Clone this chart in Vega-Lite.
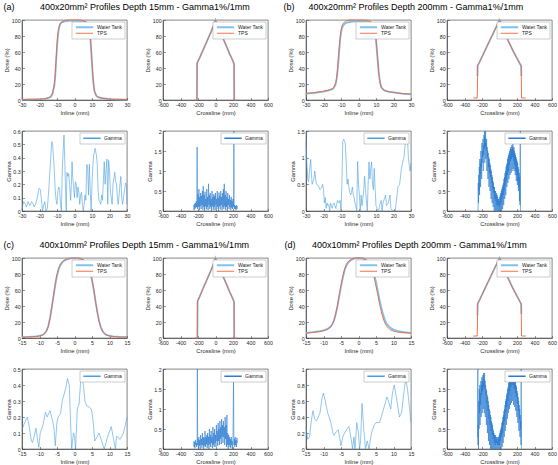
{
"$schema": "https://vega.github.io/schema/vega-lite/v6.json",
"background": "white",
"padding": {"left": 3, "top": 3, "right": 2, "bottom": 2},
"columns": 2,
"spacing": {"row": 14, "column": 10},
"resolve": {"scale": {"color": "independent", "strokeWidth": "independent"}, "legend": {"color": "independent", "strokeWidth": "independent"}},
"datasets": {
"aI": [{"x":-30,"M":0.5,"T":0.6},{"x":-25,"M":0.7,"T":0.7},{"x":-20,"M":1,"T":1.1},{"x":-17,"M":1.5,"T":1.6},{"x":-15,"M":2.5,"T":2.5},{"x":-13.5,"M":4,"T":4.5},{"x":-12.5,"M":8,"T":9},{"x":-11.5,"M":18,"T":20},{"x":-11,"M":30,"T":33},{"x":-10.5,"M":48,"T":52},{"x":-10,"M":66,"T":70},{"x":-9.5,"M":80,"T":83},{"x":-9,"M":88,"T":90},{"x":-8.5,"M":93,"T":94},{"x":-8,"M":95.5,"T":96},{"x":-7,"M":97.5,"T":98},{"x":-5,"M":98.5,"T":99.5},{"x":-3,"M":99,"T":100},{"x":0,"M":99,"T":100},{"x":3,"M":99,"T":100},{"x":5,"M":98.5,"T":99.3},{"x":6.5,"M":97.5,"T":98},{"x":7.5,"M":95,"T":95.5},{"x":8,"M":92,"T":93},{"x":8.5,"M":87,"T":88},{"x":9,"M":78,"T":80},{"x":9.5,"M":63,"T":65},{"x":10,"M":45,"T":47},{"x":10.5,"M":28,"T":30},{"x":11,"M":17,"T":18},{"x":11.5,"M":10,"T":11},{"x":12.5,"M":5,"T":5.5},{"x":13.5,"M":3.5,"T":3.5},{"x":16,"M":2.2,"T":2.2},{"x":20,"M":1,"T":1.1},{"x":25,"M":0.7,"T":0.7},{"x":30,"M":0.5,"T":0.6}],
"aC": [{"x":-240,"T":0},{"x":-215,"M":0,"T":0},{"x":-212,"M":0.5,"T":0.5},{"x":-211,"M":25,"T":25},{"x":-210,"M":46,"T":46},{"x":-200,"M":48.5,"T":48.5},{"x":-180,"M":53,"T":53},{"x":-150,"M":60.5,"T":60.5},{"x":-120,"M":68,"T":68},{"x":-100,"M":73,"T":73},{"x":-80,"M":78,"T":78},{"x":-50,"M":85.5,"T":85.5},{"x":-30,"M":91,"T":91},{"x":-15,"M":95,"T":95},{"x":-5,"M":98.5,"T":98.5},{"x":0,"M":100,"T":100},{"x":5,"M":98.5,"T":98.5},{"x":15,"M":95.5,"T":95.5},{"x":30,"M":91.5,"T":91.5},{"x":50,"M":86,"T":86},{"x":80,"M":78.5,"T":78.5},{"x":100,"M":73.5,"T":73.5},{"x":130,"M":66,"T":66},{"x":160,"M":58,"T":58},{"x":190,"M":51,"T":51},{"x":205,"M":47,"T":47},{"x":212,"M":45,"T":45},{"x":213,"M":25,"T":25},{"x":214,"M":0.5,"T":0.5},{"x":217,"M":0,"T":0},{"x":240,"T":0}],
"bI": [{"x":-30,"M":8,"T":8},{"x":-25,"M":9,"T":9.3},{"x":-20,"M":10.5,"T":11},{"x":-17,"M":12,"T":12.5},{"x":-15,"M":13.5,"T":14},{"x":-14,"M":15.5,"T":16},{"x":-13,"M":20,"T":21.5},{"x":-12.5,"M":26,"T":28},{"x":-12,"M":35,"T":38},{"x":-11.5,"M":48,"T":52},{"x":-11,"M":62,"T":66},{"x":-10.5,"M":75,"T":78},{"x":-10,"M":84,"T":87},{"x":-9.5,"M":89,"T":92},{"x":-9,"M":92,"T":95},{"x":-8,"M":95,"T":97.5},{"x":-7,"M":96.5,"T":99},{"x":-5,"M":97.5,"T":100},{"x":-3,"M":98,"T":100},{"x":0,"M":98.5,"T":100},{"x":3,"M":98.5,"T":100},{"x":5,"M":98,"T":99.5},{"x":7,"M":96.5,"T":98},{"x":8,"M":94,"T":96},{"x":9,"M":88,"T":91},{"x":9.5,"M":83,"T":86},{"x":10,"M":74,"T":77},{"x":10.5,"M":62,"T":64},{"x":11,"M":48,"T":50},{"x":11.5,"M":35,"T":36},{"x":12,"M":26,"T":27},{"x":12.5,"M":20,"T":20},{"x":13,"M":16,"T":16},{"x":14,"M":13.5,"T":13},{"x":15,"M":12,"T":11.5},{"x":17,"M":10.5,"T":10.3},{"x":20,"M":9.5,"T":9.5},{"x":25,"M":8,"T":8},{"x":30,"M":7,"T":7.5}],
"bC": [{"x":-300,"T":2.5},{"x":-255,"T":2.5},{"x":-252,"M":30,"T":15},{"x":-250,"M":43,"T":43},{"x":-230,"M":47,"T":47},{"x":-200,"M":54,"T":54},{"x":-150,"M":65.5,"T":65.5},{"x":-100,"M":77,"T":77},{"x":-60,"M":86,"T":86},{"x":-30,"M":93,"T":93},{"x":-15,"M":96.5,"T":97},{"x":-5,"M":99,"T":99.5},{"x":0,"M":100,"T":100},{"x":5,"M":99,"T":99.5},{"x":10,"M":98,"T":97.5},{"x":20,"M":95,"T":95},{"x":50,"M":86.5,"T":86.5},{"x":100,"M":74,"T":74},{"x":150,"M":62.5,"T":62.5},{"x":200,"M":52,"T":52},{"x":230,"M":46,"T":46},{"x":248,"M":42.5,"T":42.5},{"x":250,"M":30,"T":20},{"x":252,"T":2.5},{"x":300,"T":2.5}],
"cI": [{"x":-15,"M":1.2,"T":1},{"x":-13,"M":1.5,"T":1.3},{"x":-11,"M":2,"T":1.8},{"x":-10,"M":2.7,"T":2.5},{"x":-9,"M":4,"T":4},{"x":-8.5,"M":6,"T":5.5},{"x":-8,"M":9,"T":8.5},{"x":-7.5,"M":15,"T":14},{"x":-7,"M":25,"T":24},{"x":-6.5,"M":38,"T":38},{"x":-6,"M":52,"T":53},{"x":-5.5,"M":66,"T":68},{"x":-5,"M":78,"T":80},{"x":-4.5,"M":86,"T":88},{"x":-4,"M":91,"T":92.5},{"x":-3.5,"M":94.5,"T":95},{"x":-3,"M":96.5,"T":97},{"x":-2,"M":98.5,"T":99},{"x":-1,"M":99.5,"T":100},{"x":0,"M":100,"T":100},{"x":1,"M":99.5,"T":100},{"x":2,"M":98.5,"T":99},{"x":3,"M":96,"T":96.5},{"x":3.5,"M":93.5,"T":94},{"x":4,"M":89,"T":90},{"x":4.5,"M":82,"T":84},{"x":5,"M":72,"T":74},{"x":5.5,"M":60,"T":61},{"x":6,"M":46,"T":46},{"x":6.5,"M":33,"T":32},{"x":7,"M":22,"T":21},{"x":7.5,"M":14,"T":13},{"x":8,"M":9,"T":8},{"x":8.5,"M":6,"T":5.5},{"x":9,"M":4.2,"T":4},{"x":10,"M":2.8,"T":2.5},{"x":11,"M":2,"T":1.8},{"x":13,"M":1.5,"T":1.3},{"x":15,"M":1.2,"T":1}],
"cC": [{"x":-235,"T":0},{"x":-210,"M":0,"T":0},{"x":-207,"M":0.5,"T":0.5},{"x":-206,"M":25,"T":25},{"x":-205,"M":46,"T":46},{"x":-195,"M":48.5,"T":48.5},{"x":-180,"M":52,"T":52},{"x":-150,"M":60,"T":60},{"x":-120,"M":67.5,"T":67.5},{"x":-100,"M":72.5,"T":72.5},{"x":-80,"M":77.5,"T":77.5},{"x":-50,"M":85,"T":85},{"x":-30,"M":90.5,"T":90.5},{"x":-15,"M":95,"T":95},{"x":-5,"M":98.5,"T":98.5},{"x":0,"M":100,"T":100},{"x":5,"M":98.5,"T":98.5},{"x":15,"M":95.5,"T":95.5},{"x":30,"M":91.5,"T":91.5},{"x":50,"M":86,"T":86},{"x":80,"M":78.5,"T":78.5},{"x":100,"M":73.5,"T":73.5},{"x":130,"M":66,"T":66},{"x":160,"M":58,"T":58},{"x":190,"M":51,"T":51},{"x":205,"M":47,"T":47},{"x":212,"M":45,"T":45},{"x":213,"M":25,"T":25},{"x":214,"M":0.5,"T":0.5},{"x":217,"M":0,"T":0},{"x":240,"T":0}],
"dI": [{"x":-15,"M":6.5,"T":6},{"x":-13,"M":7.3,"T":7},{"x":-11,"M":8.5,"T":8},{"x":-10,"M":9.5,"T":9},{"x":-9,"M":11,"T":10.5},{"x":-8,"M":14,"T":13.5},{"x":-7.5,"M":17,"T":17},{"x":-7,"M":22,"T":22},{"x":-6.5,"M":30,"T":30},{"x":-6,"M":40,"T":41},{"x":-5.5,"M":52,"T":54},{"x":-5,"M":64,"T":66},{"x":-4.5,"M":75,"T":77},{"x":-4,"M":84,"T":86},{"x":-3.5,"M":90,"T":92},{"x":-3,"M":94,"T":95.5},{"x":-2,"M":98,"T":98.5},{"x":-1,"M":99.5,"T":100},{"x":0,"M":100,"T":100},{"x":1,"M":99.5,"T":100},{"x":2,"M":98,"T":98.5},{"x":3,"M":94.5,"T":94},{"x":3.5,"M":91,"T":90},{"x":4,"M":86,"T":84},{"x":4.5,"M":79,"T":75},{"x":5,"M":70,"T":65},{"x":5.5,"M":59,"T":54},{"x":6,"M":48,"T":43},{"x":6.5,"M":38,"T":33},{"x":7,"M":30,"T":25},{"x":7.5,"M":23,"T":19},{"x":8,"M":18,"T":15},{"x":9,"M":13,"T":10.5},{"x":10,"M":10.5,"T":8.5},{"x":11,"M":9,"T":7.5},{"x":13,"M":7.3,"T":6.5},{"x":15,"M":6.5,"T":6}],
"dC": [{"x":-300,"T":2.5},{"x":-255,"T":2.5},{"x":-252,"M":28,"T":15},{"x":-250,"M":43,"T":43},{"x":-230,"M":47,"T":47},{"x":-200,"M":54,"T":54},{"x":-150,"M":65.5,"T":66},{"x":-100,"M":77,"T":77.5},{"x":-60,"M":86,"T":86.5},{"x":-30,"M":93,"T":93},{"x":-15,"M":96.5,"T":97},{"x":-5,"M":99,"T":99.5},{"x":0,"M":100,"T":100},{"x":5,"M":99,"T":99.5},{"x":10,"M":98,"T":97.5},{"x":20,"M":95,"T":95},{"x":50,"M":87,"T":86.5},{"x":100,"M":74.5,"T":74},{"x":150,"M":63,"T":62.5},{"x":200,"M":52.5,"T":52},{"x":230,"M":46,"T":46},{"x":248,"M":42.5,"T":42.5},{"x":250,"M":30,"T":20},{"x":252,"T":2.5},{"x":300,"T":2.5}],
"gaI": [{"x":-30,"y":0},{"x":-29.5,"y":0.05},{"x":-29,"y":0.07},{"x":-28,"y":0.05},{"x":-27.5,"y":0.03},{"x":-26.5,"y":0.07},{"x":-25.5,"y":0.04},{"x":-24.5,"y":0.07},{"x":-23.5,"y":0.05},{"x":-23,"y":0.03},{"x":-22,"y":0.06},{"x":-21,"y":0.12},{"x":-20.3,"y":0.17},{"x":-19.5,"y":0.16},{"x":-19,"y":0.1},{"x":-18.3,"y":0},{"x":-17.5,"y":0.05},{"x":-17,"y":0.07},{"x":-16.3,"y":0},{"x":-15.5,"y":0.02},{"x":-14.5,"y":0.2},{"x":-13.5,"y":0.42},{"x":-13,"y":0.52},{"x":-12.5,"y":0.5},{"x":-12,"y":0.4},{"x":-11.5,"y":0.3},{"x":-11,"y":0.15},{"x":-10.5,"y":0.08},{"x":-10,"y":0.05},{"x":-9.5,"y":0.15},{"x":-9,"y":0.18},{"x":-8.5,"y":0.16},{"x":-8,"y":0.05},{"x":-7.5,"y":0},{"x":-7,"y":0.3},{"x":-6.5,"y":0.45},{"x":-6,"y":0.57},{"x":-5.5,"y":0.35},{"x":-5,"y":0.1},{"x":-4.7,"y":0},{"x":-4.3,"y":0.29},{"x":-3.8,"y":0.26},{"x":-3.3,"y":0.28},{"x":-2.8,"y":0.2},{"x":-2.2,"y":0.08},{"x":-1.8,"y":0.2},{"x":-1.4,"y":0.37},{"x":-1,"y":0.25},{"x":-0.5,"y":0.18},{"x":0,"y":0.1},{"x":0.5,"y":0.22},{"x":1,"y":0.2},{"x":1.5,"y":0.1},{"x":2,"y":0.18},{"x":2.5,"y":0.14},{"x":3,"y":0.05},{"x":3.5,"y":0.12},{"x":4,"y":0.14},{"x":4.5,"y":0.05},{"x":5,"y":0},{"x":5.5,"y":0.05},{"x":6,"y":0.12},{"x":6.5,"y":0.08},{"x":7,"y":0.35},{"x":7.5,"y":0.33},{"x":8,"y":0.12},{"x":8.5,"y":0.35},{"x":9,"y":0.15},{"x":9.5,"y":0},{"x":10,"y":0.2},{"x":10.5,"y":0.35},{"x":11,"y":0.42},{"x":11.8,"y":0.47},{"x":12.5,"y":0.42},{"x":13,"y":0.35},{"x":13.5,"y":0.15},{"x":14,"y":0.08},{"x":15,"y":0.05},{"x":15.5,"y":0.12},{"x":16,"y":0.08},{"x":17,"y":0.37},{"x":17.5,"y":0.2},{"x":18,"y":0.3},{"x":18.5,"y":0.39},{"x":19,"y":0.05},{"x":19.5,"y":0.38},{"x":20,"y":0.3},{"x":20.5,"y":0.15},{"x":21,"y":0.1},{"x":21.5,"y":0.05},{"x":22,"y":0.2},{"x":23,"y":0.29},{"x":23.5,"y":0.22},{"x":24,"y":0.2},{"x":24.5,"y":0.1},{"x":25,"y":0.05},{"x":26,"y":0.2},{"x":26.5,"y":0.26},{"x":27,"y":0.1},{"x":27.5,"y":0.05},{"x":28.5,"y":0.15},{"x":29.2,"y":0.21},{"x":29.6,"y":0.2},{"x":30,"y":0.05}],
"gaC": [{"x":-250,"y":0.15},{"x":-245,"y":0.02},{"x":-240,"y":0.18},{"x":-235,"y":0.05},{"x":-230,"y":0.2},{"x":-225,"y":0.08},{"x":-220,"y":0.25},{"x":-215,"y":0.1},{"x":-212,"y":0.4},{"x":-210,"y":1.6},{"x":-207,"y":0.3},{"x":-205,"y":0.05},{"x":-200,"y":0.42},{"x":-195,"y":0.1},{"x":-190,"y":0.55},{"x":-185,"y":0.02},{"x":-180,"y":0.35},{"x":-175,"y":0.12},{"x":-170,"y":0.45},{"x":-165,"y":0.05},{"x":-160,"y":0.38},{"x":-155,"y":0.15},{"x":-150,"y":0.5},{"x":-145,"y":0.03},{"x":-140,"y":0.62},{"x":-135,"y":0.1},{"x":-130,"y":0.4},{"x":-125,"y":0},{"x":-120,"y":0.48},{"x":-115,"y":0.12},{"x":-110,"y":0.3},{"x":-105,"y":0.04},{"x":-100,"y":0.55},{"x":-95,"y":0.1},{"x":-90,"y":0.35},{"x":-85,"y":0.02},{"x":-80,"y":0.68},{"x":-75,"y":0.15},{"x":-70,"y":0.4},{"x":-65,"y":0.05},{"x":-60,"y":0.45},{"x":-55,"y":0.1},{"x":-50,"y":0.3},{"x":-45,"y":0},{"x":-40,"y":0.5},{"x":-35,"y":0.12},{"x":-30,"y":0.35},{"x":-25,"y":0.03},{"x":-20,"y":0.42},{"x":-15,"y":0.1},{"x":-10,"y":0.38},{"x":-5,"y":0.02},{"x":0,"y":0.45},{"x":5,"y":0.15},{"x":10,"y":0.3},{"x":15,"y":0.05},{"x":20,"y":0.5},{"x":25,"y":0.1},{"x":30,"y":0.33},{"x":35,"y":0},{"x":40,"y":0.46},{"x":45,"y":0.12},{"x":50,"y":0.38},{"x":55,"y":0.04},{"x":60,"y":0.5},{"x":65,"y":0.15},{"x":70,"y":0.35},{"x":75,"y":0.02},{"x":80,"y":0.45},{"x":85,"y":0.1},{"x":90,"y":0.55},{"x":95,"y":0.05},{"x":100,"y":0.68},{"x":105,"y":0.12},{"x":110,"y":0.4},{"x":115,"y":0.03},{"x":120,"y":0.5},{"x":125,"y":0.1},{"x":130,"y":0.35},{"x":135,"y":0},{"x":140,"y":0.45},{"x":145,"y":0.15},{"x":150,"y":0.3},{"x":155,"y":0.05},{"x":160,"y":0.4},{"x":165,"y":0.1},{"x":170,"y":0.28},{"x":175,"y":0.02},{"x":180,"y":0.35},{"x":185,"y":0.08},{"x":190,"y":0.25},{"x":195,"y":0.05},{"x":200,"y":0.3},{"x":205,"y":0.1},{"x":208,"y":0.5},{"x":210,"y":2},{"x":212,"y":0.3},{"x":215,"y":0.05},{"x":220,"y":0.15},{"x":225,"y":0.05},{"x":230,"y":0.12},{"x":235,"y":0.02},{"x":240,"y":0.15},{"x":245,"y":0.05},{"x":250,"y":0.12}],
"gbI": [{"x":-30,"y":1.3},{"x":-29.5,"y":0.9},{"x":-29,"y":0.6},{"x":-28.5,"y":0.55},{"x":-28,"y":0.75},{"x":-27.3,"y":0.97},{"x":-27,"y":0.75},{"x":-26.5,"y":0.5},{"x":-26,"y":0.55},{"x":-25.5,"y":0.6},{"x":-25,"y":0.75},{"x":-24.5,"y":0.6},{"x":-24,"y":0.5},{"x":-23,"y":0.48},{"x":-22,"y":0.4},{"x":-21.5,"y":0.42},{"x":-21,"y":0.45},{"x":-20.5,"y":0.5},{"x":-20,"y":0.4},{"x":-19.5,"y":0.15},{"x":-19,"y":0.25},{"x":-18.5,"y":0.05},{"x":-18,"y":0.15},{"x":-17.5,"y":0.1},{"x":-17,"y":0.12},{"x":-16.5,"y":0},{"x":-16,"y":0.15},{"x":-15.5,"y":0.1},{"x":-15,"y":0.05},{"x":-14.5,"y":0.12},{"x":-14,"y":0.15},{"x":-13,"y":0.05},{"x":-12.5,"y":0.12},{"x":-12,"y":0.2},{"x":-11,"y":0.15},{"x":-10.5,"y":0.2},{"x":-10,"y":0},{"x":-9.5,"y":0.5},{"x":-9,"y":1.3},{"x":-8.5,"y":1.35},{"x":-8,"y":1.32},{"x":-7.5,"y":1.25},{"x":-7,"y":0.9},{"x":-6.5,"y":0.5},{"x":-6,"y":0.6},{"x":-5.5,"y":0.45},{"x":-5,"y":0.35},{"x":-4.5,"y":0.3},{"x":-4,"y":0.35},{"x":-3.5,"y":0.45},{"x":-3,"y":0.3},{"x":-2.5,"y":0.25},{"x":-2,"y":0.15},{"x":-1,"y":0},{"x":-0.5,"y":0.93},{"x":0,"y":0.5},{"x":0.5,"y":0.3},{"x":1,"y":0},{"x":1.5,"y":0.3},{"x":2,"y":0.1},{"x":3,"y":0.4},{"x":3.5,"y":0.65},{"x":4,"y":0.4},{"x":4.5,"y":0.2},{"x":5,"y":0},{"x":5.5,"y":0.5},{"x":6,"y":0.92},{"x":6.5,"y":0.6},{"x":7,"y":0.8},{"x":7.5,"y":0.92},{"x":8,"y":0.5},{"x":8.5,"y":0.4},{"x":9,"y":0.8},{"x":9.5,"y":0.4},{"x":10,"y":0.1},{"x":10.5,"y":0.05},{"x":11.5,"y":0},{"x":12,"y":0.1},{"x":13,"y":0.2},{"x":13.5,"y":0},{"x":14,"y":0.15},{"x":15.5,"y":0.3},{"x":16,"y":0.1},{"x":17,"y":0.15},{"x":18,"y":0.3},{"x":18.5,"y":0.05},{"x":19.5,"y":0},{"x":21,"y":0},{"x":22,"y":0.3},{"x":22.5,"y":0.45},{"x":23.5,"y":0.5},{"x":24.5,"y":0.8},{"x":25.5,"y":0.95},{"x":26,"y":1},{"x":26.5,"y":1.2},{"x":27,"y":1.3},{"x":27.5,"y":1.33},{"x":28,"y":1.35},{"x":28.5,"y":1},{"x":29,"y":0.85},{"x":29.5,"y":0.75},{"x":30,"y":0.9}],
"gbC": [{"x":-245,"y":0},{"x":-243,"y":0.7},{"x":-240,"y":0.2},{"x":-237,"y":0.9},{"x":-234,"y":0.5},{"x":-231,"y":1.1},{"x":-228,"y":0.4},{"x":-225,"y":1.3},{"x":-222,"y":0.9},{"x":-219,"y":1.2},{"x":-216,"y":0.6},{"x":-213,"y":1.5},{"x":-210,"y":1.1},{"x":-207,"y":1.3},{"x":-204,"y":0.8},{"x":-201,"y":1.7},{"x":-198,"y":1.2},{"x":-195,"y":1.5},{"x":-192,"y":1.35},{"x":-189,"y":1.8},{"x":-186,"y":1},{"x":-183,"y":1.65},{"x":-180,"y":1.4},{"x":-177,"y":1.9},{"x":-174,"y":1.55},{"x":-171,"y":2},{"x":-168,"y":1.2},{"x":-165,"y":1.85},{"x":-162,"y":1.6},{"x":-159,"y":2},{"x":-156,"y":1.3},{"x":-153,"y":1.7},{"x":-150,"y":1.5},{"x":-147,"y":1.8},{"x":-144,"y":1},{"x":-141,"y":1.6},{"x":-138,"y":1.35},{"x":-135,"y":1.5},{"x":-132,"y":0.8},{"x":-129,"y":1.45},{"x":-126,"y":1.1},{"x":-123,"y":1.35},{"x":-120,"y":0.6},{"x":-117,"y":1.3},{"x":-114,"y":0.95},{"x":-111,"y":1.2},{"x":-108,"y":0.5},{"x":-105,"y":1.15},{"x":-102,"y":0.85},{"x":-99,"y":1.05},{"x":-96,"y":0.3},{"x":-93,"y":1},{"x":-90,"y":0.7},{"x":-87,"y":0.9},{"x":-84,"y":0.2},{"x":-81,"y":0.85},{"x":-78,"y":0.55},{"x":-75,"y":0.75},{"x":-72,"y":0.1},{"x":-69,"y":0.7},{"x":-66,"y":0.45},{"x":-63,"y":0.6},{"x":-60,"y":0},{"x":-57,"y":0.6},{"x":-54,"y":0.3},{"x":-51,"y":0.5},{"x":-48,"y":0},{"x":-45,"y":0.5},{"x":-42,"y":0.25},{"x":-39,"y":0.4},{"x":-36,"y":0},{"x":-33,"y":0.45},{"x":-30,"y":0.15},{"x":-27,"y":0.4},{"x":-24,"y":0},{"x":-21,"y":0.35},{"x":-18,"y":0.15},{"x":-15,"y":0.3},{"x":-12,"y":0},{"x":-9,"y":0.3},{"x":-6,"y":0.1},{"x":-3,"y":0.25},{"x":0,"y":0},{"x":3,"y":0.35},{"x":6,"y":0.15},{"x":9,"y":0.4},{"x":12,"y":0},{"x":15,"y":0.45},{"x":18,"y":0.2},{"x":21,"y":0.5},{"x":24,"y":0},{"x":27,"y":0.55},{"x":30,"y":0.3},{"x":33,"y":0.6},{"x":36,"y":0.05},{"x":39,"y":0.65},{"x":42,"y":0.4},{"x":45,"y":0.7},{"x":48,"y":0.15},{"x":51,"y":0.8},{"x":54,"y":0.5},{"x":57,"y":0.85},{"x":60,"y":0.3},{"x":63,"y":0.95},{"x":66,"y":0.65},{"x":69,"y":1},{"x":72,"y":0.4},{"x":75,"y":1.1},{"x":78,"y":0.75},{"x":81,"y":1.15},{"x":84,"y":0.6},{"x":87,"y":1.2},{"x":90,"y":0.9},{"x":93,"y":1.3},{"x":96,"y":0.7},{"x":99,"y":1.35},{"x":102,"y":1},{"x":105,"y":1.4},{"x":108,"y":0.8},{"x":111,"y":1.45},{"x":114,"y":1.15},{"x":117,"y":1.5},{"x":120,"y":0.9},{"x":123,"y":1.55},{"x":126,"y":1.25},{"x":129,"y":1.6},{"x":132,"y":0.95},{"x":135,"y":1.55},{"x":138,"y":1.3},{"x":141,"y":1.65},{"x":144,"y":1},{"x":147,"y":1.6},{"x":150,"y":1.35},{"x":153,"y":1.7},{"x":156,"y":1.05},{"x":159,"y":1.55},{"x":162,"y":1.25},{"x":165,"y":1.6},{"x":168,"y":1},{"x":171,"y":1.5},{"x":174,"y":1.15},{"x":177,"y":1.45},{"x":180,"y":0.9},{"x":183,"y":1.4},{"x":186,"y":1},{"x":189,"y":1.35},{"x":192,"y":0.75},{"x":195,"y":1.3},{"x":198,"y":0.9},{"x":201,"y":1.25},{"x":204,"y":0.65},{"x":207,"y":1.2},{"x":210,"y":0.75},{"x":213,"y":1.1},{"x":216,"y":0.5},{"x":219,"y":1.05},{"x":222,"y":0.6},{"x":225,"y":0.95},{"x":228,"y":0.25},{"x":231,"y":0.85},{"x":234,"y":0.15},{"x":236,"y":1.5},{"x":238,"y":2},{"x":240,"y":0}],
"gcI": [{"x":-15,"y":0.12},{"x":-14.5,"y":0.15},{"x":-13.5,"y":0.2},{"x":-13,"y":0.15},{"x":-12.3,"y":0.05},{"x":-12,"y":0.04},{"x":-11.3,"y":0.1},{"x":-11,"y":0.13},{"x":-10.5,"y":0.05},{"x":-10.2,"y":0.01},{"x":-9.8,"y":0.1},{"x":-9,"y":0.15},{"x":-8.3,"y":0.23},{"x":-7.8,"y":0.2},{"x":-7,"y":0.24},{"x":-6.3,"y":0.18},{"x":-5.8,"y":0.12},{"x":-5.5,"y":0.02},{"x":-5,"y":0.17},{"x":-4.7,"y":0.2},{"x":-4,"y":0.22},{"x":-3.5,"y":0.3},{"x":-2.5,"y":0.38},{"x":-2,"y":0.44},{"x":-1.5,"y":0.4},{"x":-1.1,"y":0.15},{"x":-0.8,"y":0},{"x":-0.3,"y":0.1},{"x":0,"y":0.08},{"x":0.3,"y":0},{"x":0.8,"y":0.25},{"x":1.3,"y":0.28},{"x":1.9,"y":0.47},{"x":2.3,"y":0.45},{"x":3,"y":0.3},{"x":3.5,"y":0.27},{"x":4.3,"y":0.26},{"x":4.8,"y":0.25},{"x":5.2,"y":0.2},{"x":5.8,"y":0.05},{"x":6.3,"y":0.07},{"x":7,"y":0.1},{"x":8.5,"y":0},{"x":9.5,"y":0.08},{"x":10.5,"y":0.14},{"x":11,"y":0.08},{"x":11.7,"y":0},{"x":12,"y":0.08},{"x":13,"y":0.06},{"x":14,"y":0.1},{"x":15,"y":0.2}],
"gcC": [{"x":-250,"y":0.2},{"x":-245,"y":0.05},{"x":-240,"y":0.18},{"x":-235,"y":0.02},{"x":-230,"y":0.22},{"x":-225,"y":0.1},{"x":-220,"y":0.15},{"x":-215,"y":0.05},{"x":-210,"y":0.3},{"x":-207,"y":2},{"x":-204,"y":0.1},{"x":-200,"y":0.25},{"x":-195,"y":0.02},{"x":-190,"y":0.3},{"x":-185,"y":0.08},{"x":-180,"y":0.22},{"x":-175,"y":0},{"x":-170,"y":0.35},{"x":-165,"y":0.1},{"x":-160,"y":0.25},{"x":-155,"y":0.03},{"x":-150,"y":0.4},{"x":-145,"y":0.1},{"x":-140,"y":0.3},{"x":-135,"y":0},{"x":-130,"y":0.28},{"x":-125,"y":0.08},{"x":-120,"y":0.45},{"x":-115,"y":0.05},{"x":-110,"y":0.3},{"x":-105,"y":0.12},{"x":-100,"y":0.35},{"x":-95,"y":0.02},{"x":-90,"y":0.4},{"x":-85,"y":0.1},{"x":-80,"y":0.3},{"x":-75,"y":0},{"x":-70,"y":0.5},{"x":-65,"y":0.12},{"x":-60,"y":0.35},{"x":-55,"y":0.05},{"x":-50,"y":0.45},{"x":-45,"y":0.15},{"x":-40,"y":0.3},{"x":-35,"y":0.02},{"x":-30,"y":0.55},{"x":-25,"y":0.1},{"x":-20,"y":0.4},{"x":-15,"y":0.05},{"x":-10,"y":0.5},{"x":-5,"y":0.15},{"x":0,"y":0.35},{"x":5,"y":0.05},{"x":10,"y":0.6},{"x":15,"y":0.2},{"x":20,"y":0.45},{"x":25,"y":0.08},{"x":30,"y":0.65},{"x":35,"y":0.2},{"x":40,"y":0.5},{"x":45,"y":0.1},{"x":50,"y":0.7},{"x":55,"y":0.25},{"x":60,"y":0.55},{"x":65,"y":0.12},{"x":70,"y":0.75},{"x":75,"y":0.3},{"x":80,"y":0.6},{"x":85,"y":0.15},{"x":90,"y":0.7},{"x":95,"y":0.3},{"x":100,"y":0.55},{"x":105,"y":0.1},{"x":110,"y":0.8},{"x":115,"y":0.25},{"x":120,"y":0.6},{"x":125,"y":0.05},{"x":130,"y":0.85},{"x":135,"y":0.1},{"x":140,"y":0.4},{"x":145,"y":0},{"x":150,"y":0.35},{"x":155,"y":0.1},{"x":160,"y":0.3},{"x":165,"y":0.05},{"x":170,"y":0.25},{"x":175,"y":0.02},{"x":180,"y":0.3},{"x":185,"y":0.1},{"x":190,"y":0.2},{"x":195,"y":0},{"x":200,"y":0.3},{"x":203,"y":1},{"x":206,"y":1.7},{"x":209,"y":0.5},{"x":212,"y":0.1},{"x":215,"y":0.25},{"x":220,"y":0.05},{"x":225,"y":0.3},{"x":230,"y":0.1},{"x":235,"y":0.22},{"x":240,"y":0.05},{"x":245,"y":0.28},{"x":250,"y":0.15}],
"gdI": [{"x":-15,"y":0.27},{"x":-14.5,"y":0.12},{"x":-14,"y":0.15},{"x":-13.5,"y":0.35},{"x":-13,"y":0.48},{"x":-12.5,"y":0.37},{"x":-12,"y":0.35},{"x":-11,"y":0.45},{"x":-10.5,"y":0.62},{"x":-10,"y":0.7},{"x":-9.5,"y":0.6},{"x":-8.8,"y":0.45},{"x":-8,"y":0.35},{"x":-7.3,"y":0.2},{"x":-7,"y":0.17},{"x":-6.3,"y":0.22},{"x":-5.8,"y":0.24},{"x":-5.3,"y":0.12},{"x":-5,"y":0.04},{"x":-4.5,"y":0.15},{"x":-4,"y":0.2},{"x":-3,"y":0.27},{"x":-2.7,"y":0.28},{"x":-2,"y":0.1},{"x":-1.7,"y":0},{"x":-1.3,"y":0.15},{"x":-1,"y":0},{"x":-0.5,"y":0.33},{"x":0,"y":0.2},{"x":0.3,"y":0},{"x":0.6,"y":0.1},{"x":1,"y":0.57},{"x":1.5,"y":0.25},{"x":2,"y":0},{"x":2.5,"y":0.1},{"x":3,"y":0},{"x":3.7,"y":0.2},{"x":4.5,"y":0.3},{"x":5,"y":0.33},{"x":6,"y":0.33},{"x":6.5,"y":0.4},{"x":7.5,"y":0.55},{"x":8.1,"y":0.65},{"x":8.7,"y":0.58},{"x":9.2,"y":0.5},{"x":9.7,"y":0.7},{"x":10.2,"y":0.8},{"x":11,"y":0.6},{"x":11.7,"y":0.4},{"x":12.3,"y":0.45},{"x":13,"y":0.72},{"x":13.5,"y":0.88},{"x":14,"y":0.75},{"x":14.6,"y":0.5},{"x":15,"y":0.33}],
"gdC": [{"x":-250,"y":0.3},{"x":-248,"y":2},{"x":-246,"y":0.1},{"x":-243,"y":0.6},{"x":-240,"y":0},{"x":-237,"y":1.2},{"x":-234,"y":0.5},{"x":-231,"y":1.5},{"x":-228,"y":0.9},{"x":-225,"y":1.6},{"x":-222,"y":0.6},{"x":-219,"y":1.4},{"x":-216,"y":1.1},{"x":-213,"y":1.7},{"x":-210,"y":0.8},{"x":-207,"y":1.6},{"x":-204,"y":1.35},{"x":-201,"y":1.8},{"x":-198,"y":0.9},{"x":-195,"y":1.7},{"x":-192,"y":1.45},{"x":-189,"y":1.85},{"x":-186,"y":1},{"x":-183,"y":1.9},{"x":-180,"y":1.55},{"x":-177,"y":1.75},{"x":-174,"y":0.9},{"x":-171,"y":1.9},{"x":-168,"y":1.5},{"x":-165,"y":1.7},{"x":-162,"y":0.8},{"x":-159,"y":1.6},{"x":-156,"y":1.35},{"x":-153,"y":1.5},{"x":-150,"y":0.6},{"x":-147,"y":1.45},{"x":-144,"y":1.15},{"x":-141,"y":1.35},{"x":-138,"y":0.4},{"x":-135,"y":1.3},{"x":-132,"y":0.95},{"x":-129,"y":1.2},{"x":-126,"y":0.2},{"x":-123,"y":1.1},{"x":-120,"y":0.75},{"x":-117,"y":1},{"x":-114,"y":0.1},{"x":-111,"y":0.95},{"x":-108,"y":0.6},{"x":-105,"y":0.85},{"x":-102,"y":0},{"x":-99,"y":0.8},{"x":-96,"y":0.45},{"x":-93,"y":0.7},{"x":-90,"y":0},{"x":-87,"y":0.65},{"x":-84,"y":0.35},{"x":-81,"y":0.6},{"x":-78,"y":0},{"x":-75,"y":0.5},{"x":-72,"y":0.25},{"x":-69,"y":0.45},{"x":-66,"y":0},{"x":-63,"y":0.4},{"x":-60,"y":0.15},{"x":-57,"y":0.35},{"x":-54,"y":0},{"x":-51,"y":0.3},{"x":-48,"y":0.1},{"x":-45,"y":0.35},{"x":-42,"y":0},{"x":-39,"y":0.25},{"x":-36,"y":0.15},{"x":-33,"y":0.3},{"x":-30,"y":0},{"x":-27,"y":0.2},{"x":-24,"y":0.1},{"x":-21,"y":0.3},{"x":-18,"y":0},{"x":-15,"y":0.25},{"x":-12,"y":0.1},{"x":-9,"y":0.3},{"x":-6,"y":0},{"x":-3,"y":0.35},{"x":0,"y":0.1},{"x":3,"y":0.4},{"x":6,"y":0},{"x":9,"y":0.45},{"x":12,"y":0.2},{"x":15,"y":0.5},{"x":18,"y":0},{"x":21,"y":0.55},{"x":24,"y":0.3},{"x":27,"y":0.65},{"x":30,"y":0.05},{"x":33,"y":0.7},{"x":36,"y":0.4},{"x":39,"y":0.8},{"x":42,"y":0.15},{"x":45,"y":0.85},{"x":48,"y":0.6},{"x":51,"y":0.95},{"x":54,"y":0.3},{"x":57,"y":1},{"x":60,"y":0.7},{"x":63,"y":1.1},{"x":66,"y":0.45},{"x":69,"y":1.2},{"x":72,"y":0.9},{"x":75,"y":1.25},{"x":78,"y":0.6},{"x":81,"y":1.35},{"x":84,"y":1.05},{"x":87,"y":1.4},{"x":90,"y":0.75},{"x":93,"y":1.5},{"x":96,"y":1.2},{"x":99,"y":1.55},{"x":102,"y":0.9},{"x":105,"y":1.65},{"x":108,"y":1.35},{"x":111,"y":1.7},{"x":114,"y":1},{"x":117,"y":1.8},{"x":120,"y":1.45},{"x":123,"y":1.75},{"x":126,"y":1.1},{"x":129,"y":1.85},{"x":132,"y":1.55},{"x":135,"y":1.8},{"x":138,"y":1.15},{"x":141,"y":1.9},{"x":144,"y":1.6},{"x":147,"y":1.85},{"x":150,"y":1.2},{"x":153,"y":1.9},{"x":156,"y":1.6},{"x":159,"y":1.75},{"x":162,"y":1.1},{"x":165,"y":1.8},{"x":168,"y":1.5},{"x":171,"y":1.85},{"x":174,"y":1.05},{"x":177,"y":1.75},{"x":180,"y":1.4},{"x":183,"y":1.7},{"x":186,"y":0.95},{"x":189,"y":1.6},{"x":192,"y":1.3},{"x":195,"y":1.55},{"x":198,"y":0.8},{"x":201,"y":1.45},{"x":204,"y":1.15},{"x":207,"y":1.4},{"x":210,"y":0.65},{"x":213,"y":1.3},{"x":216,"y":0.95},{"x":219,"y":1.2},{"x":222,"y":0.45},{"x":225,"y":1.1},{"x":228,"y":0.75},{"x":231,"y":1},{"x":234,"y":0.3},{"x":237,"y":0.85},{"x":240,"y":0.5},{"x":243,"y":0.7},{"x":246,"y":0.1},{"x":248,"y":2},{"x":250,"y":0}]
},
"concat": [
{"title": {"text": "(a)\u2003\u2003\u00a0\u00a0\u00a0400x20mm\u00b2 Profiles Depth 15mm - Gamma1%/1mm"},
 "columns": 2, "bounds": "flush", "spacing": {"row": 31, "column": 36},
 "resolve": {"scale": {"color": "independent", "strokeWidth": "independent"}, "legend": {"color": "independent", "strokeWidth": "independent"}},
 "concat": [
  {"width":105,"height":80,"data":{"name":"aI"},"transform":[{"fold":["M","T"],"as":["s","y"]}],"mark":{"type":"line"},
   "encoding":{"x":{"field":"x","type":"quantitative","scale":{"domain":[-30,30],"nice":false},"axis":{"values":[-30,-20,-10,0,10,20,30],"title":"Inline (mm)"}},
    "y":{"field":"y","type":"quantitative","scale":{"domain":[0,100],"nice":false},"axis":{"values":[0,20,40,60,80,100],"title":"Dose (%)"}},
    "color":{"field":"s","type":"nominal","scale":{"domain":["M","T"],"range":["#7cc3ef","#f0643c"]},"legend":{"title":null,"labelExpr":"datum.label == 'M' ? 'Water Tank' : 'TPS'"}},
    "strokeWidth":{"field":"s","type":"nominal","scale":{"domain":["M","T"],"range":[1.8,0.9]},"legend":{"title":null,"labelExpr":"datum.label == 'M' ? 'Water Tank' : 'TPS'"}}}},
  {"width":105,"height":80,"data":{"name":"aC"},"transform":[{"fold":["M","T"],"as":["s","y"]}],"mark":{"type":"line"},
   "encoding":{"x":{"field":"x","type":"quantitative","scale":{"domain":[-600,600],"nice":false},"axis":{"values":[-600,-400,-200,0,200,400,600],"title":"Crossline (mm)"}},
    "y":{"field":"y","type":"quantitative","scale":{"domain":[0,100],"nice":false},"axis":{"values":[0,20,40,60,80,100],"title":"Dose (%)"}},
    "color":{"field":"s","type":"nominal","scale":{"domain":["M","T"],"range":["#7cc3ef","#f0643c"]},"legend":{"title":null,"labelExpr":"datum.label == 'M' ? 'Water Tank' : 'TPS'"}},
    "strokeWidth":{"field":"s","type":"nominal","scale":{"domain":["M","T"],"range":[1.8,0.9]},"legend":{"title":null,"labelExpr":"datum.label == 'M' ? 'Water Tank' : 'TPS'"}}}},
  {"width":105,"height":80,"data":{"name":"gaI"},"mark":{"type":"line","strokeWidth":0.6},
   "encoding":{"x":{"field":"x","type":"quantitative","scale":{"domain":[-30,30],"nice":false},"axis":{"values":[-30,-20,-10,0,10,20,30],"title":"Inline (mm)"}},
    "y":{"field":"y","type":"quantitative","scale":{"domain":[0,0.6],"nice":false},"axis":{"values":[0,0.1,0.2,0.3,0.4,0.5,0.6],"title":"Gamma"}},
    "color":{"datum":"Gamma","type":"nominal","scale":{"domain":["Gamma"],"range":["#4a9fe0"]},"legend":{"title":null}}}},
  {"width":105,"height":80,"data":{"name":"gaC"},"mark":{"type":"line","strokeWidth":0.6},
   "encoding":{"x":{"field":"x","type":"quantitative","scale":{"domain":[-600,600],"nice":false},"axis":{"values":[-600,-400,-200,0,200,400,600],"title":"Crossline (mm)"}},
    "y":{"field":"y","type":"quantitative","scale":{"domain":[0,2],"nice":false},"axis":{"values":[0,0.5,1,1.5,2],"title":"Gamma"}},
    "color":{"datum":"Gamma","type":"nominal","scale":{"domain":["Gamma"],"range":["#2a7bd0"]},"legend":{"title":null}}}}
 ]},
{"title": {"text": "(b)\u2003\u00a0\u00a0400x20mm\u00b2 Profiles Depth 200mm - Gamma1%/1mm", "dx": -4},
 "columns": 2, "bounds": "flush", "spacing": {"row": 31, "column": 36},
 "resolve": {"scale": {"color": "independent", "strokeWidth": "independent"}, "legend": {"color": "independent", "strokeWidth": "independent"}},
 "concat": [
  {"width":105,"height":80,"data":{"name":"bI"},"transform":[{"fold":["M","T"],"as":["s","y"]}],"mark":{"type":"line"},
   "encoding":{"x":{"field":"x","type":"quantitative","scale":{"domain":[-30,30],"nice":false},"axis":{"values":[-30,-20,-10,0,10,20,30],"title":"Inline (mm)"}},
    "y":{"field":"y","type":"quantitative","scale":{"domain":[0,100],"nice":false},"axis":{"values":[0,20,40,60,80,100],"title":"Dose (%)"}},
    "color":{"field":"s","type":"nominal","scale":{"domain":["M","T"],"range":["#7cc3ef","#f0643c"]},"legend":{"title":null,"labelExpr":"datum.label == 'M' ? 'Water Tank' : 'TPS'"}},
    "strokeWidth":{"field":"s","type":"nominal","scale":{"domain":["M","T"],"range":[1.8,0.9]},"legend":{"title":null,"labelExpr":"datum.label == 'M' ? 'Water Tank' : 'TPS'"}}}},
  {"width":105,"height":80,"data":{"name":"bC"},"transform":[{"fold":["M","T"],"as":["s","y"]}],"mark":{"type":"line"},
   "encoding":{"x":{"field":"x","type":"quantitative","scale":{"domain":[-600,600],"nice":false},"axis":{"values":[-600,-400,-200,0,200,400,600],"title":"Crossline (mm)"}},
    "y":{"field":"y","type":"quantitative","scale":{"domain":[0,100],"nice":false},"axis":{"values":[0,20,40,60,80,100],"title":"Dose (%)"}},
    "color":{"field":"s","type":"nominal","scale":{"domain":["M","T"],"range":["#7cc3ef","#f0643c"]},"legend":{"title":null,"labelExpr":"datum.label == 'M' ? 'Water Tank' : 'TPS'"}},
    "strokeWidth":{"field":"s","type":"nominal","scale":{"domain":["M","T"],"range":[1.8,0.9]},"legend":{"title":null,"labelExpr":"datum.label == 'M' ? 'Water Tank' : 'TPS'"}}}},
  {"width":105,"height":80,"data":{"name":"gbI"},"mark":{"type":"line","strokeWidth":0.6},
   "encoding":{"x":{"field":"x","type":"quantitative","scale":{"domain":[-30,30],"nice":false},"axis":{"values":[-30,-20,-10,0,10,20,30],"title":"Inline (mm)"}},
    "y":{"field":"y","type":"quantitative","scale":{"domain":[0,1.5],"nice":false},"axis":{"values":[0,0.5,1,1.5],"title":"Gamma"}},
    "color":{"datum":"Gamma","type":"nominal","scale":{"domain":["Gamma"],"range":["#4a9fe0"]},"legend":{"title":null}}}},
  {"width":105,"height":80,"data":{"name":"gbC"},"mark":{"type":"line","strokeWidth":0.6},
   "encoding":{"x":{"field":"x","type":"quantitative","scale":{"domain":[-600,600],"nice":false},"axis":{"values":[-600,-400,-200,0,200,400,600],"title":"Crossline (mm)"}},
    "y":{"field":"y","type":"quantitative","scale":{"domain":[0,2],"nice":false},"axis":{"values":[0,0.5,1,1.5,2],"title":"Gamma"}},
    "color":{"datum":"Gamma","type":"nominal","scale":{"domain":["Gamma"],"range":["#2a7bd0"]},"legend":{"title":null}}}}
 ]},
{"title": {"text": "(c)\u2003\u2003\u00a0\u00a0\u00a0400x10mm\u00b2 Profiles Depth 15mm - Gamma1%/1mm"},
 "columns": 2, "bounds": "flush", "spacing": {"row": 31, "column": 36},
 "resolve": {"scale": {"color": "independent", "strokeWidth": "independent"}, "legend": {"color": "independent", "strokeWidth": "independent"}},
 "concat": [
  {"width":105,"height":80,"data":{"name":"cI"},"transform":[{"fold":["M","T"],"as":["s","y"]}],"mark":{"type":"line"},
   "encoding":{"x":{"field":"x","type":"quantitative","scale":{"domain":[-15,15],"nice":false},"axis":{"values":[-15,-10,-5,0,5,10,15],"title":"Inline (mm)"}},
    "y":{"field":"y","type":"quantitative","scale":{"domain":[0,100],"nice":false},"axis":{"values":[0,20,40,60,80,100],"title":"Dose (%)"}},
    "color":{"field":"s","type":"nominal","scale":{"domain":["M","T"],"range":["#7cc3ef","#f0643c"]},"legend":{"title":null,"labelExpr":"datum.label == 'M' ? 'Water Tank' : 'TPS'"}},
    "strokeWidth":{"field":"s","type":"nominal","scale":{"domain":["M","T"],"range":[1.8,0.9]},"legend":{"title":null,"labelExpr":"datum.label == 'M' ? 'Water Tank' : 'TPS'"}}}},
  {"width":105,"height":80,"data":{"name":"cC"},"transform":[{"fold":["M","T"],"as":["s","y"]}],"mark":{"type":"line"},
   "encoding":{"x":{"field":"x","type":"quantitative","scale":{"domain":[-600,600],"nice":false},"axis":{"values":[-600,-400,-200,0,200,400,600],"title":"Crossline (mm)"}},
    "y":{"field":"y","type":"quantitative","scale":{"domain":[0,100],"nice":false},"axis":{"values":[0,20,40,60,80,100],"title":"Dose (%)"}},
    "color":{"field":"s","type":"nominal","scale":{"domain":["M","T"],"range":["#7cc3ef","#f0643c"]},"legend":{"title":null,"labelExpr":"datum.label == 'M' ? 'Water Tank' : 'TPS'"}},
    "strokeWidth":{"field":"s","type":"nominal","scale":{"domain":["M","T"],"range":[1.8,0.9]},"legend":{"title":null,"labelExpr":"datum.label == 'M' ? 'Water Tank' : 'TPS'"}}}},
  {"width":105,"height":80,"data":{"name":"gcI"},"mark":{"type":"line","strokeWidth":0.6},
   "encoding":{"x":{"field":"x","type":"quantitative","scale":{"domain":[-15,15],"nice":false},"axis":{"values":[-15,-10,-5,0,5,10,15],"title":"Inline (mm)"}},
    "y":{"field":"y","type":"quantitative","scale":{"domain":[0,0.5],"nice":false},"axis":{"values":[0,0.1,0.2,0.3,0.4,0.5],"title":"Gamma"}},
    "color":{"datum":"Gamma","type":"nominal","scale":{"domain":["Gamma"],"range":["#4a9fe0"]},"legend":{"title":null}}}},
  {"width":105,"height":80,"data":{"name":"gcC"},"mark":{"type":"line","strokeWidth":0.6},
   "encoding":{"x":{"field":"x","type":"quantitative","scale":{"domain":[-600,600],"nice":false},"axis":{"values":[-600,-400,-200,0,200,400,600],"title":"Crossline (mm)"}},
    "y":{"field":"y","type":"quantitative","scale":{"domain":[0,2],"nice":false},"axis":{"values":[0,0.5,1,1.5,2],"title":"Gamma"}},
    "color":{"datum":"Gamma","type":"nominal","scale":{"domain":["Gamma"],"range":["#2a7bd0"]},"legend":{"title":null}}}}
 ]},
{"title": {"text": "(d)\u2003\u00a0\u00a0\u00a0400x10mm\u00b2 Profiles Depth 200mm - Gamma1%/1mm", "dx": -3},
 "columns": 2, "bounds": "flush", "spacing": {"row": 31, "column": 36},
 "resolve": {"scale": {"color": "independent", "strokeWidth": "independent"}, "legend": {"color": "independent", "strokeWidth": "independent"}},
 "concat": [
  {"width":105,"height":80,"data":{"name":"dI"},"transform":[{"fold":["M","T"],"as":["s","y"]}],"mark":{"type":"line"},
   "encoding":{"x":{"field":"x","type":"quantitative","scale":{"domain":[-15,15],"nice":false},"axis":{"values":[-15,-10,-5,0,5,10,15],"title":"Inline (mm)"}},
    "y":{"field":"y","type":"quantitative","scale":{"domain":[0,100],"nice":false},"axis":{"values":[0,20,40,60,80,100],"title":"Dose (%)"}},
    "color":{"field":"s","type":"nominal","scale":{"domain":["M","T"],"range":["#7cc3ef","#f0643c"]},"legend":{"title":null,"labelExpr":"datum.label == 'M' ? 'Water Tank' : 'TPS'"}},
    "strokeWidth":{"field":"s","type":"nominal","scale":{"domain":["M","T"],"range":[1.8,0.9]},"legend":{"title":null,"labelExpr":"datum.label == 'M' ? 'Water Tank' : 'TPS'"}}}},
  {"width":105,"height":80,"data":{"name":"dC"},"transform":[{"fold":["M","T"],"as":["s","y"]}],"mark":{"type":"line"},
   "encoding":{"x":{"field":"x","type":"quantitative","scale":{"domain":[-600,600],"nice":false},"axis":{"values":[-600,-400,-200,0,200,400,600],"title":"Crossline (mm)"}},
    "y":{"field":"y","type":"quantitative","scale":{"domain":[0,100],"nice":false},"axis":{"values":[0,20,40,60,80,100],"title":"Dose (%)"}},
    "color":{"field":"s","type":"nominal","scale":{"domain":["M","T"],"range":["#7cc3ef","#f0643c"]},"legend":{"title":null,"labelExpr":"datum.label == 'M' ? 'Water Tank' : 'TPS'"}},
    "strokeWidth":{"field":"s","type":"nominal","scale":{"domain":["M","T"],"range":[1.8,0.9]},"legend":{"title":null,"labelExpr":"datum.label == 'M' ? 'Water Tank' : 'TPS'"}}}},
  {"width":105,"height":80,"data":{"name":"gdI"},"mark":{"type":"line","strokeWidth":0.6},
   "encoding":{"x":{"field":"x","type":"quantitative","scale":{"domain":[-15,15],"nice":false},"axis":{"values":[-15,-10,-5,0,5,10,15],"title":"Inline (mm)"}},
    "y":{"field":"y","type":"quantitative","scale":{"domain":[0,1],"nice":false},"axis":{"values":[0,0.2,0.4,0.6,0.8,1],"title":"Gamma"}},
    "color":{"datum":"Gamma","type":"nominal","scale":{"domain":["Gamma"],"range":["#4a9fe0"]},"legend":{"title":null}}}},
  {"width":105,"height":80,"data":{"name":"gdC"},"mark":{"type":"line","strokeWidth":0.6},
   "encoding":{"x":{"field":"x","type":"quantitative","scale":{"domain":[-600,600],"nice":false},"axis":{"values":[-600,-400,-200,0,200,400,600],"title":"Crossline (mm)"}},
    "y":{"field":"y","type":"quantitative","scale":{"domain":[0,2],"nice":false},"axis":{"values":[0,0.5,1,1.5,2],"title":"Gamma"}},
    "color":{"datum":"Gamma","type":"nominal","scale":{"domain":["Gamma"],"range":["#2a7bd0"]},"legend":{"title":null}}}}
 ]}
],
"config": {
 "font": "Liberation Sans",
 "numberFormat": ".6~g",
 "locale": {"number": {"decimal": ".", "thousands": ",", "grouping": [3], "currency": ["$", ""], "minus": "-"}},
 "view": {"stroke": "#333333", "strokeWidth": 0.6},
 "axis": {"labelFontSize": 5.3, "titleFontSize": 5.8, "titleFontWeight": "normal", "labelColor": "#262626", "titleColor": "#262626", "domainColor": "#333333", "domainWidth": 0.6, "tickColor": "#333333", "tickSize": -2.5, "tickWidth": 0.5, "grid": false, "labelPadding": 4.3, "titlePadding": 1.5, "labelFlush": false, "labelOverlap": false},
 "axisX": {"labelPadding": 5.2, "titlePadding": 1},
 "legend": {"orient": "top-right", "offset": 2, "padding": 2.5, "fillColor": "white", "strokeColor": "#999999", "strokeWidth": 0.5, "labelFontSize": 5, "labelColor": "#222222", "symbolType": "stroke", "symbolSize": 300, "clipHeight": 5.5, "rowPadding": 0, "labelOffset": 2.5, "cornerRadius": 0},
 "title": {"fontSize": 9, "font": "Liberation Sans", "fontWeight": "normal", "anchor": "start", "frame": "bounds", "offset": 4, "color": "#000000"}
}
}
